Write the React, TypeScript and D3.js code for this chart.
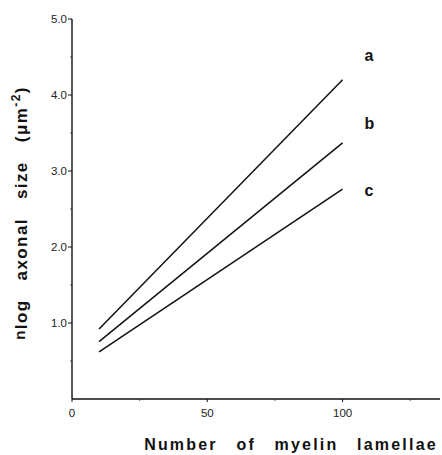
import React from "react";
import * as d3 from "d3";

const W = 442;
const H = 455;

const seriesNames = ["a", "b", "c"];
const xStart = [10, 10, 10];
const xEnd = [100, 100, 100];
const yStart = [0.92, 0.755, 0.62];
const yEnd = [4.2, 3.37, 2.76];

const yTicks = [1, 2, 3, 4, 5];
const yTickLabels = ["1.0", "2.0", "3.0", "4.0", "5.0"];
const yMinorTicks = [0.5, 1.5, 2.5, 3.5, 4.5];
const xTicks = [0, 50, 100];
const xMinorTicks = [25, 75, 125];

export default function App() {
  const x = d3.scaleLinear().domain([0, 136]).range([72, 440]);
  const y = d3.scaleLinear().domain([0, 5]).range([399, 19]);
  const line = d3
    .line<[number, number]>()
    .x((d) => x(d[0]))
    .y((d) => y(d[1]));

  const font = "'Liberation Sans', Arial, sans-serif";

  return (
    <svg
      width={W}
      height={H}
      style={{ position: "absolute", left: 0, top: 0, background: "#fff" }}
      fontFamily={font}
    >
      {/* axes */}
      <line x1={x(0)} y1={y(0)} x2={x(0)} y2={y(5)} stroke="#111" strokeWidth={1.4} />
      <line x1={x(0)} y1={y(0)} x2={x(136)} y2={y(0)} stroke="#111" strokeWidth={1.4} />

      {yTicks.map((t, i) => (
        <g key={"yt" + t}>
          <line x1={x(0) - 4} x2={x(0)} y1={y(t)} y2={y(t)} stroke="#111" strokeWidth={1} />
          <text x={x(0) - 5} y={y(t)} dy="0.35em" textAnchor="end" fontSize={11.5} fill="#222">
            {yTickLabels[i]}
          </text>
        </g>
      ))}
      {yMinorTicks.map((t) => (
        <line key={"ym" + t} x1={x(0) - 2} x2={x(0)} y1={y(t)} y2={y(t)} stroke="#333" strokeWidth={0.8} />
      ))}

      {xTicks.map((t) => (
        <g key={"xt" + t}>
          <line x1={x(t)} x2={x(t)} y1={y(0)} y2={y(0) + 3} stroke="#111" strokeWidth={1} />
          <text x={x(t)} y={y(0) + 18} textAnchor="middle" fontSize={11.5} fill="#222">
            {t}
          </text>
        </g>
      ))}
      {xMinorTicks.map((t) => (
        <line key={"xm" + t} x1={x(t)} x2={x(t)} y1={y(0)} y2={y(0) + 2} stroke="#333" strokeWidth={0.8} />
      ))}

      {/* series lines */}
      {seriesNames.map((name, i) => (
        <g key={name}>
          <path
            d={line([
              [xStart[i], yStart[i]],
              [xEnd[i], yEnd[i]],
            ]) || ""}
            fill="none"
            stroke="#111"
            strokeWidth={1.5}
          />
        </g>
      ))}

      {/* series labels */}
      {seriesNames.map((name, i) => (
        <text
          key={"lab" + name}
          x={x(xEnd[i]) + 22}
          y={[55, 123, 190][i]}
          dy="0.35em"
          fontSize={16}
          fontWeight="bold"
          fill="#111"
        >
          {name}
        </text>
      ))}

      {/* axis titles */}
      <text
        x={291}
        y={450}
        textAnchor="middle"
        fontSize={16}
        fontWeight="bold"
        fill="#111"
        style={{ wordSpacing: "12px", letterSpacing: "2.2px" }}
      >
        Number of myelin lamellae
      </text>

      <text
        transform="translate(27,213) rotate(-90)"
        textAnchor="middle"
        fontSize={17}
        fontWeight="bold"
        fill="#111"
        style={{ wordSpacing: "13px", letterSpacing: "1.4px" }}
      >
        <tspan fontSize={15} dy="-2">n</tspan>
        <tspan dy="2">log axonal size (μm</tspan>
        <tspan fontSize={12} dy="-7">-2</tspan>
        <tspan dy="7">)</tspan>
      </text>
    </svg>
  );
}
